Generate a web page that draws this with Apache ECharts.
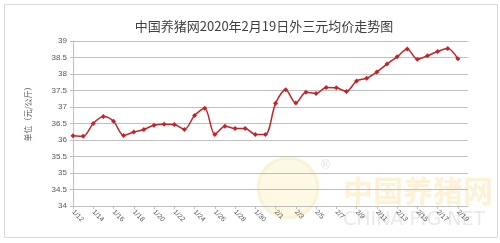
<!DOCTYPE html>
<html><head><meta charset="utf-8">
<script src="https://cdn.jsdelivr.net/npm/echarts@6/dist/echarts.min.js"></script>
<style>html,body{margin:0;padding:0;background:#fff}#c{width:500px;height:243px}</style>
</head><body><div id="c"></div>
<script>
const categories = ['1/12','1/13','1/14','1/15','1/16','1/17','1/18','1/19','1/20','1/21','1/22','1/23','1/24','1/25','1/26','1/27','1/28','1/29','1/30','1/31',
  '2/1','2/2','2/3','2/4','2/5','2/6','2/7','2/8','2/9','2/10','2/11','2/12','2/13','2/14','2/15','2/16','2/17','2/18','2/19','2/20'];
const prices = [36.13,36.11,36.50,36.71,36.57,36.14,36.24,36.32,36.45,36.48,36.47,36.32,36.74,36.96,36.17,36.42,36.35,36.35,36.17,36.17,
  37.11,37.52,37.12,37.45,37.41,37.59,37.58,37.47,37.79,37.87,38.06,38.30,38.52,38.76,38.45,38.55,38.68,38.77,38.46,null];
const yTicks = {min:34, max:39, interval:0.5};
const titleText = '中国养猪网2020年2月19日外三元均价走势图';
const yName = '单位（元/公斤）';

const chart = echarts.init(document.getElementById('c'), null, {renderer:'canvas'});
chart.setOption({
  animation:false,
  backgroundColor:'#fff',
  title:{text:titleText, left:259, top:15, textAlign:'center',
    textStyle:{fontSize:13, fontWeight:'normal', color:'#404040', fontFamily:'Noto Sans CJK SC'}},
  grid:{left:73, right:32, top:41, bottom:37},
  graphic:[
    {type:'rect', shape:{x:4.5,y:4.5,width:493,height:233}, style:{fill:'none', stroke:'#d9d9d9', lineWidth:1}, z:-10},
    {type:'circle', shape:{cx:288,cy:188,r:30}, style:{fill:'rgba(250,235,170,0.3)', stroke:'rgba(240,225,160,0.35)', lineWidth:3}, z:-5},
    {type:'text', left:343, top:176, style:{text:'中国养猪网', fontSize:30, fontWeight:'bold', fill:'rgba(250,210,120,0.3)', fontFamily:'Noto Sans CJK SC'}, z:-5},
    {type:'text', left:343, top:211, style:{text:'CHINA PIG NET', fontSize:19, fill:'rgba(200,200,200,0.4)', fontFamily:'DejaVu Sans'}, z:-5},
    {type:'text', left:321, top:160, style:{text:'®', fontSize:12, fill:'rgba(200,200,200,0.5)'}, z:-5},
    {type:'text', x:28, y:112, rotation:Math.PI/2, style:{text:yName, fontSize:8, fill:'#595959', align:'center', verticalAlign:'middle', fontFamily:'Noto Sans CJK SC'}}
  ],
  xAxis:{type:'category', data:categories, boundaryGap:false,
    axisLine:{lineStyle:{color:'#bfbfbf'}},
    axisTick:{interval:1, length:3, lineStyle:{color:'#bfbfbf'}},
    axisLabel:{interval:1, rotate:-45, fontSize:7, color:'#595959', margin:5, fontFamily:'Liberation Sans'},
    splitLine:{show:false}},
  yAxis:{type:'value', min:yTicks.min, max:yTicks.max, interval:yTicks.interval,
    axisLine:{show:true, lineStyle:{color:'#bfbfbf'}},
    axisTick:{show:true, length:3, lineStyle:{color:'#bfbfbf'}},
    axisLabel:{fontSize:8, color:'#595959', margin:6, fontFamily:'Liberation Sans'},
    splitLine:{lineStyle:{color:'#bfbfbf', width:1}}},
  series:[{type:'line', data:prices, smooth:0.3, symbol:'diamond', symbolSize:5,
    lineStyle:{color:'#c0252a', width:1.5}, itemStyle:{color:'#c0252a'}}]
});
</script></body></html>
